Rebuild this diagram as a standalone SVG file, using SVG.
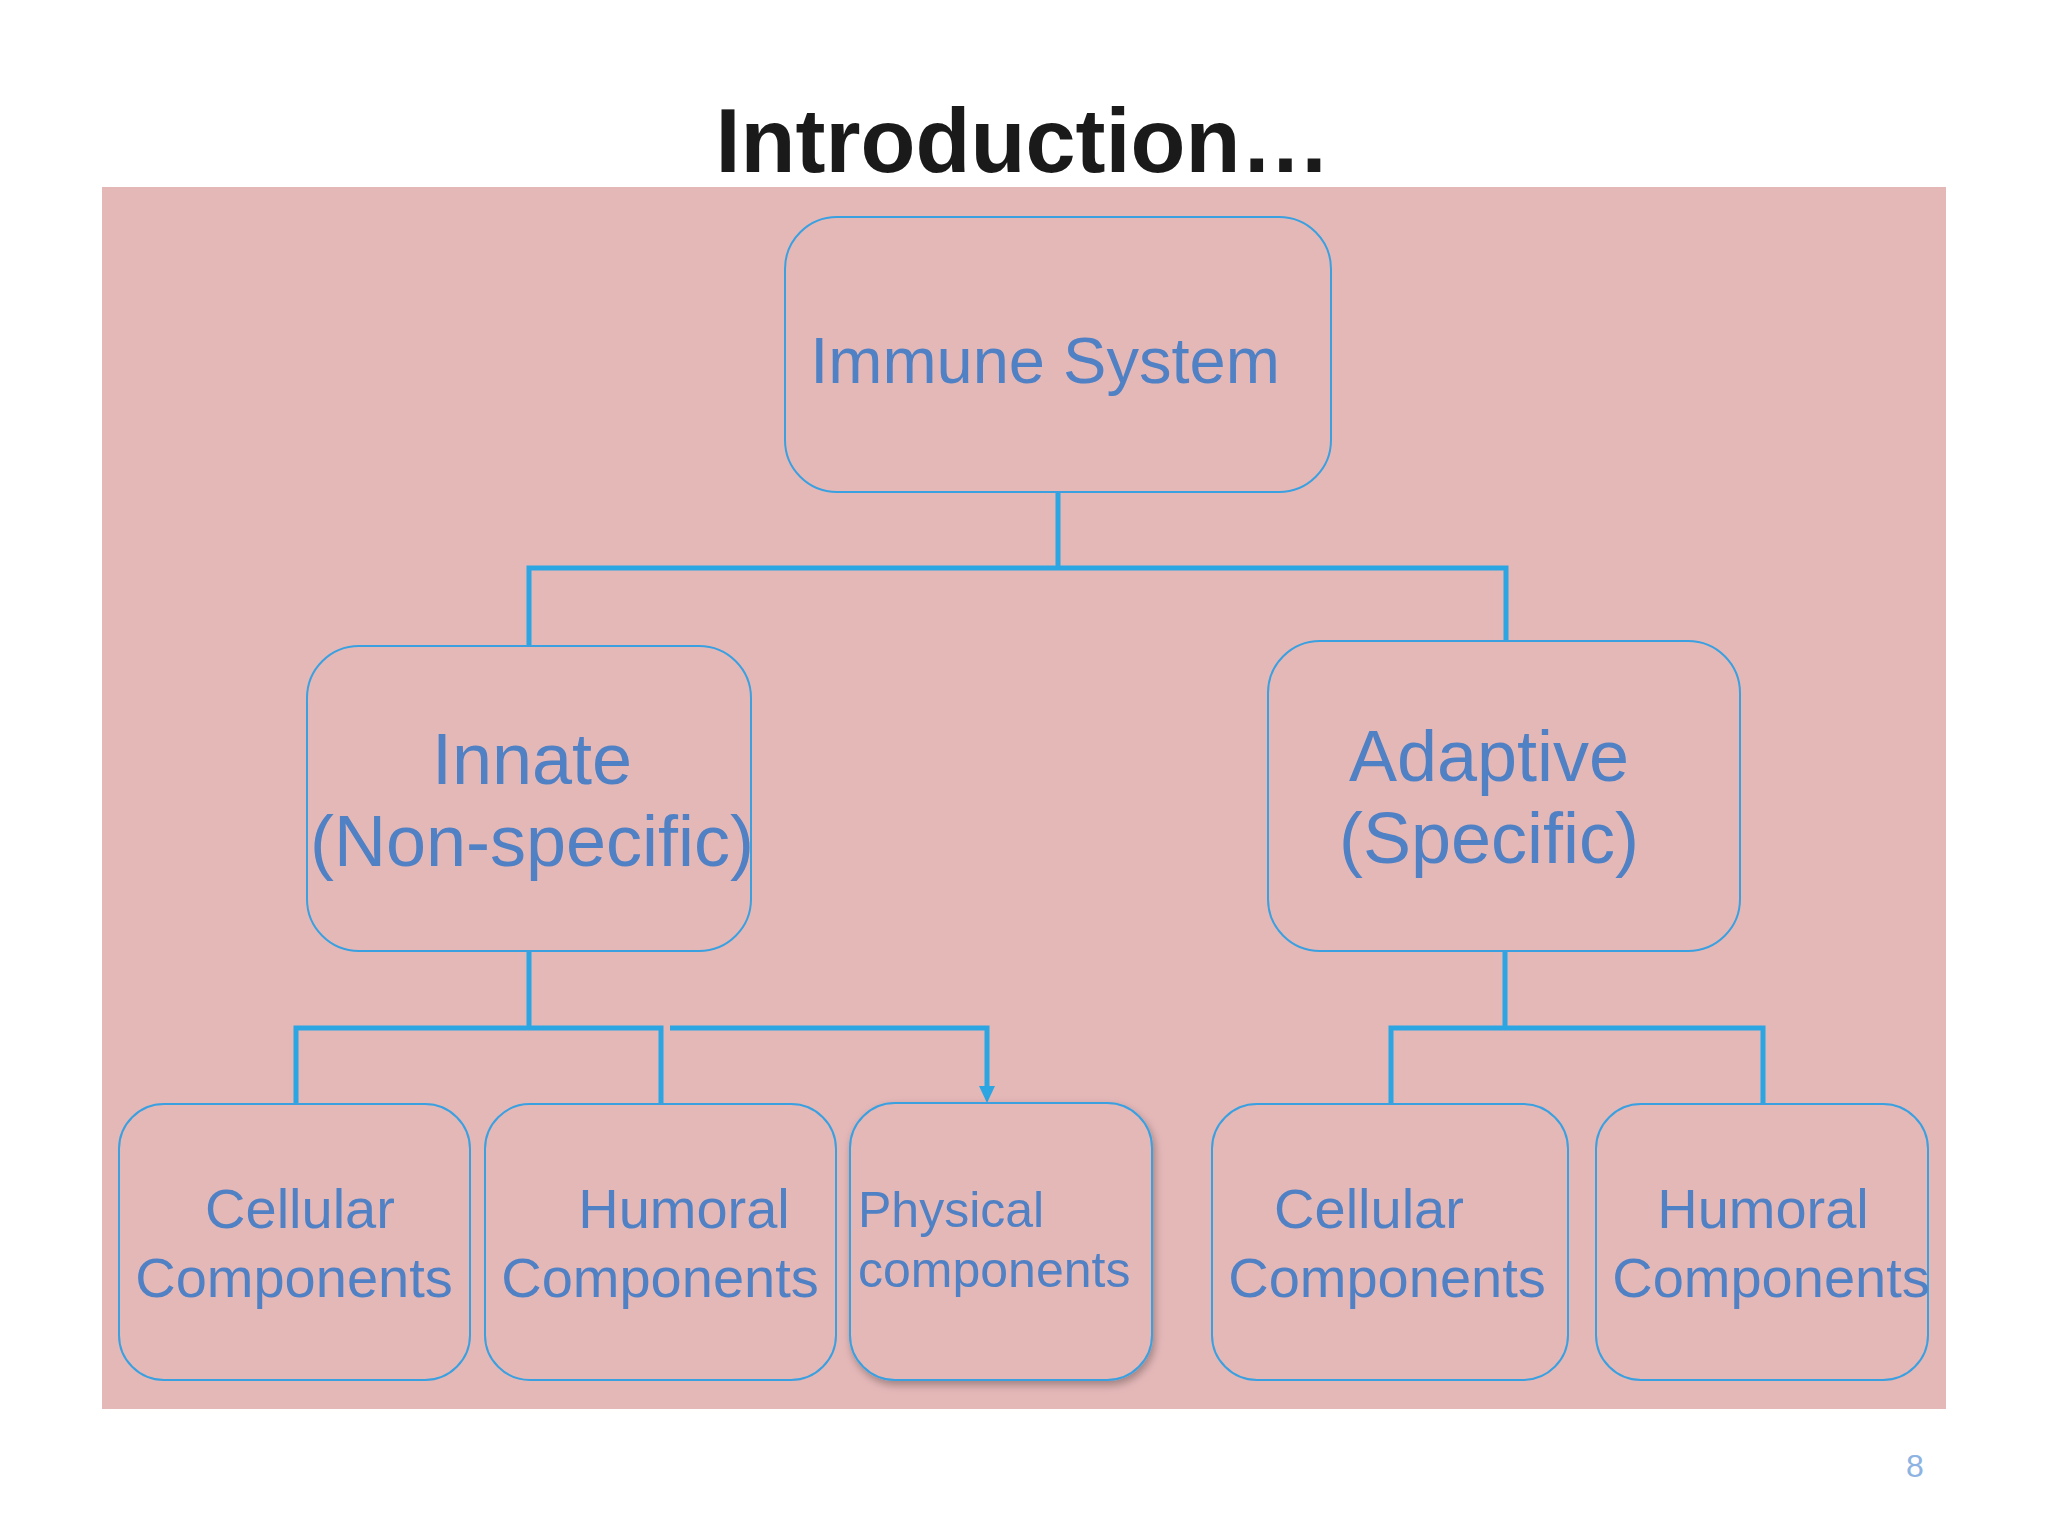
<svg xmlns="http://www.w3.org/2000/svg" width="2048" height="1536" viewBox="0 0 2048 1536">
<defs>
<style>
.box{fill:#e5b8b8;stroke:#3aa0e0;stroke-width:2}
.t{font-family:"Liberation Sans",Arial,sans-serif;fill:#4f81c4;text-anchor:middle}
.c{fill:none;stroke:#2ba6e2;stroke-width:5}
</style>
<filter id="sh" x="-10%" y="-10%" width="130%" height="130%"><feDropShadow dx="2" dy="4" stdDeviation="4" flood-color="#000" flood-opacity="0.3"/></filter>
<marker id="ar" markerWidth="6" markerHeight="6" refX="3" refY="5" orient="auto" markerUnits="userSpaceOnUse" viewBox="0 0 6 6"><path d="M0,0 L6,0 L3,6 Z" fill="#2ba6e2"/></marker>
</defs>
<rect width="2048" height="1536" fill="#fff"/>
<rect x="102" y="187" width="1844" height="1222" fill="#e5b8b8"/>
<text x="1023" y="172" font-family="Liberation Sans,Arial,sans-serif" font-weight="bold" font-size="90" text-anchor="middle" fill="#1a1a1a">Introduction…</text>
<g id="connectors">
<path class="c" d="M1058,492 V568 M529,646 V568 H1506 V641"/>
<path class="c" d="M529,951 V1028 M296,1104 V1028 H661 V1104"/>
<path class="c" d="M670,1028 H987 V1090"/>
<path d="M979,1086 L995,1086 L987,1103 Z" fill="#2ba6e2"/>
<path class="c" d="M1505,951 V1028 M1391,1104 V1028 H1763 V1104"/>
</g>
<g id="immune"><rect class="box" x="785" y="217" width="546" height="275" rx="52"/><text class="t" x="1045" y="383" font-size="65">Immune System</text></g>
<g id="innate"><rect class="box" x="307" y="646" width="444" height="305" rx="52"/><text class="t" x="532" y="784" font-size="72">Innate</text><text class="t" x="532" y="866" font-size="72">(Non-specific)</text></g>
<g id="adaptive"><rect class="box" x="1268" y="641" width="472" height="310" rx="52"/><text class="t" x="1489" y="781" font-size="72">Adaptive</text><text class="t" x="1489" y="863" font-size="72">(Specific)</text></g>
<g id="cellular1"><rect class="box" x="119" y="1104" width="351" height="276" rx="45"/><text class="t" x="300" y="1228" font-size="56">Cellular</text><text class="t" x="294" y="1297" font-size="56">Components</text></g>
<g id="humoral1"><rect class="box" x="485" y="1104" width="351" height="276" rx="45"/><text class="t" x="684" y="1228" font-size="56">Humoral</text><text class="t" x="660" y="1297" font-size="56">Components</text></g>
<g id="physical"><rect class="box" x="850" y="1103" width="302" height="277" rx="45" filter="url(#sh)"/><text class="t" x="858" y="1227" font-size="50" text-anchor="start" style="text-anchor:start">Physical</text><text class="t" x="858" y="1287" font-size="50" style="text-anchor:start">components</text></g>
<g id="cellular2"><rect class="box" x="1212" y="1104" width="356" height="276" rx="45"/><text class="t" x="1369" y="1228" font-size="56">Cellular</text><text class="t" x="1387" y="1297" font-size="56">Components</text></g>
<g id="humoral2"><rect class="box" x="1596" y="1104" width="332" height="276" rx="45"/><text class="t" x="1763" y="1228" font-size="56">Humoral</text><text class="t" x="1771" y="1297" font-size="56">Components</text></g>
<text x="1915" y="1477" font-family="Liberation Sans,Arial,sans-serif" font-size="32" fill="#8db3e2" text-anchor="middle">8</text>
</svg>
